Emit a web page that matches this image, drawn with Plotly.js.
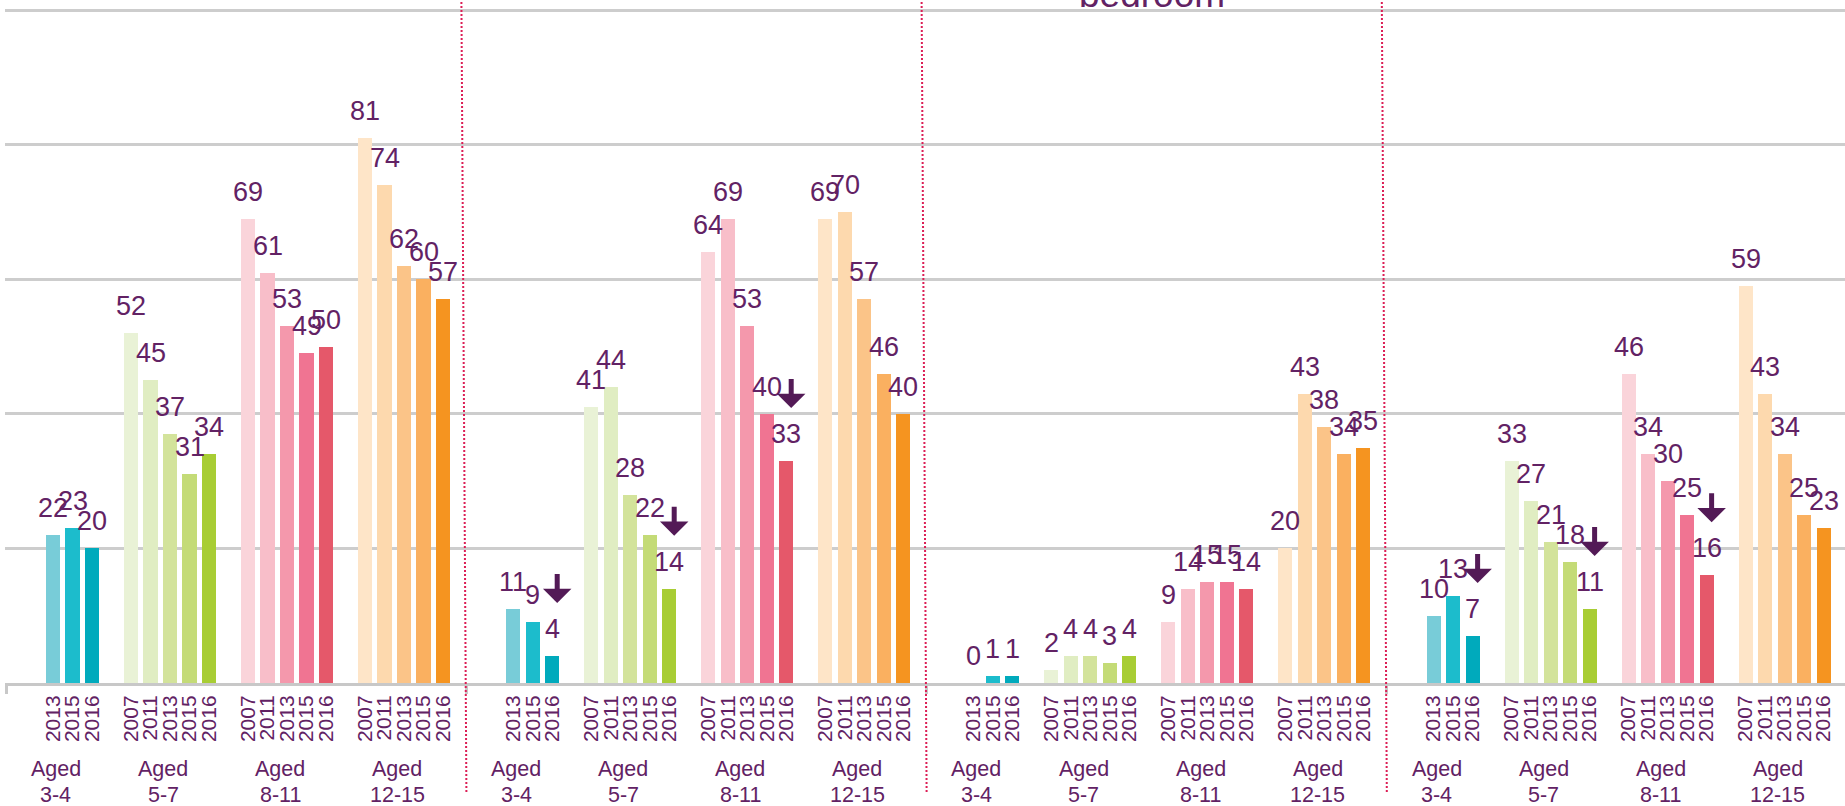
<!DOCTYPE html>
<html><head><meta charset="utf-8">
<script src="https://cdn.plot.ly/plotly-3.0.1.min.js"></script>
<style>html,body{margin:0;padding:0;background:#fff;overflow:hidden;} #chart{width:1845px;height:806px;}</style>
</head><body><div id="chart"></div>
<script>
// ---------------- data ----------------
const ageGroups = ['3-4', '5-7', '8-11', '12-15'];
const yearsYoungest = ['2013', '2015', '2016'];
const yearsOlder = ['2007', '2011', '2013', '2015', '2016'];
const panelTitles = ['', '', 'bedroom', ''];

const panel1 = [[22, 23, 20], [52, 45, 37, 31, 34], [69, 61, 53, 49, 50], [81, 74, 62, 60, 57]];
const panel2 = [[11, 9, 4], [41, 44, 28, 22, 14], [64, 69, 53, 40, 33], [69, 70, 57, 46, 40]];
const panel3 = [[0, 1, 1], [2, 4, 4, 3, 4], [9, 14, 15, 15, 14], [20, 43, 38, 34, 35]];
const panel4 = [[10, 13, 7], [33, 27, 21, 18, 11], [46, 34, 30, 25, 16], [59, 43, 34, 25, 23]];
const panels = [panel1, panel2, panel3, panel4];

// groups marked with a fall in 2016: [panel index, age group index]
const declineFlags = [[1, 0], [1, 1], [1, 2], [3, 0], [3, 1], [3, 2]];

// ---------------- style ----------------
const groupColors = [
  ['#78CCD8', '#1CBCCC', '#00AABC'],
  ['#E9F2D6', '#E0EDC2', '#D3E39B', '#C4DB77', '#A8CD34'],
  ['#FAD4DA', '#F8BEC9', '#F498AC', '#F07492', '#E5586A'],
  ['#FEE5C8', '#FDD9AE', '#FBC488', '#FAB060', '#F59420']
];
const purple = '#622264';
const arrowPurple = '#531A56';
const fontFam = 'Liberation Sans, Arial, Helvetica, sans-serif';

const W = 1845, H = 806;
const M = {l: 5, r: 0, t: 5, b: 123};
const plotW = W - M.l - M.r, plotH = H - M.t - M.b;
const groupStart = [2, 6, 12, 18];
const panelPitch = 23.6;
const xRange = [-0.4615, 93.897];
const yRange = [0, 100.77];

const px2paperY = (py) => (H - M.b - py) / plotH;
const u2paperX = (u) => (u - xRange[0]) / (xRange[1] - xRange[0]);

// ---------------- traces ----------------
const traces = [];
const tickvals = [], ticktext = [];
const annotations = [];
const shapes = [];

ageGroups.forEach((g, gi) => {
  const years = gi === 0 ? yearsYoungest : yearsOlder;
  const xs = [], ys = [], cs = [], tx = [];
  panels.forEach((panel, pi) => {
    panel[gi].forEach((v, yi) => {
      const x = pi * panelPitch + groupStart[gi] + yi;
      xs.push(x); ys.push(v); cs.push(groupColors[gi][yi]); tx.push(years[yi]);
      tickvals.push(x); ticktext.push(years[yi]);
      annotations.push({
        x: x, y: v, xref: 'x', yref: 'y', text: String(v), showarrow: false,
        yanchor: 'bottom', xanchor: 'center', yshift: 10,
        font: {family: fontFam, size: 27, color: purple}
      });
    });
    // age-group label centred on the group's span of category slots
    const spanStart = gi === 0 ? 0 : groupStart[gi] - 1;
    const spanEnd = groupStart[gi] + years.length - 1;
    const center = pi * panelPitch + (spanStart + spanEnd) / 2 + 0.15;
    annotations.push({
      x: center, xref: 'x', y: px2paperY(769), yref: 'paper', text: 'Aged',
      showarrow: false, xanchor: 'center', yanchor: 'middle',
      font: {family: fontFam, size: 21.5, color: purple}
    });
    annotations.push({
      x: center, xref: 'x', y: px2paperY(794.5), yref: 'paper', text: g,
      showarrow: false, xanchor: 'center', yanchor: 'middle',
      font: {family: fontFam, size: 21.5, color: purple}
    });
  });
  traces.push({
    type: 'bar', x: xs, y: ys, width: 0.72, name: 'Aged ' + g,
    marker: {color: cs, line: {width: 0}}, text: tx, hoverinfo: 'y+text', textposition: 'none'
  });
});

// decline arrows next to the 2016 bar
declineFlags.forEach(([pi, gi]) => {
  const vals = panels[pi][gi];
  const last = vals.length - 1;
  const x = pi * panelPitch + groupStart[gi] + last;
  annotations.push({
    x: x, y: vals[last], xref: 'x', yref: 'y', text: ' ',
    showarrow: true, arrowhead: 1, arrowwidth: 5, arrowsize: 0.95, arrowcolor: arrowPurple,
    ax: 0, ay: -31, axref: 'pixel', ayref: 'pixel', standoff: 0,
    xshift: 5, yshift: 53, font: {size: 1}
  });
});

// panel titles (only the last line shows at the top edge)
panelTitles.forEach((t, pi) => {
  if (!t) return;
  const c = -0.4 + pi * panelPitch + panelPitch / 2;
  annotations.push({
    x: c, xref: 'x', y: 1, yref: 'paper', text: t, showarrow: false,
    xanchor: 'center', yanchor: 'bottom', yshift: -12, xshift: -5,
    font: {family: fontFam, size: 37, color: purple}
  });
});

// dotted panel separators
const boundaries = [];
for (let p = 0; p < panels.length; p++) boundaries.push(-0.4 + p * panelPitch);
boundaries.slice(1).forEach((u) => {
  const xb = u2paperX(u);
  shapes.push({
    type: 'line', xref: 'paper', yref: 'paper',
    x0: xb, y0: px2paperY(792), x1: xb - 5 / plotW, y1: px2paperY(0),
    line: {color: '#DC1E55', width: 2, dash: '2px,2px'}
  });
});

const layout = {
  width: W, height: H,
  margin: M,
  paper_bgcolor: '#fff', plot_bgcolor: '#fff',
  showlegend: false,
  bargap: 0,
  xaxis: {
    range: xRange, tickmode: 'array', tickvals: tickvals, ticktext: ticktext,
    tickangle: -90, ticks: '', ticklabelstandoff: 1,
    tickfont: {family: fontFam, size: 21, color: purple},
    showgrid: false, zeroline: false,
    showline: true, linecolor: '#C8C8C8', linewidth: 3,
    minor: {tickmode: 'array', tickvals: boundaries, ticks: 'outside', ticklen: 8, tickwidth: 3, tickcolor: '#C8C8C8', showgrid: false}
  },
  yaxis: {
    range: yRange, tickmode: 'array', tickvals: [20, 40, 60, 80, 100],
    showticklabels: false, ticks: '', showgrid: true, gridcolor: '#CDCDCD', gridwidth: 3,
    zeroline: false, showline: false
  },
  annotations: annotations,
  shapes: shapes,
  font: {family: fontFam, color: purple}
};

Plotly.newPlot('chart', traces, layout, {staticPlot: true, displayModeBar: false});
</script>
</body></html>
